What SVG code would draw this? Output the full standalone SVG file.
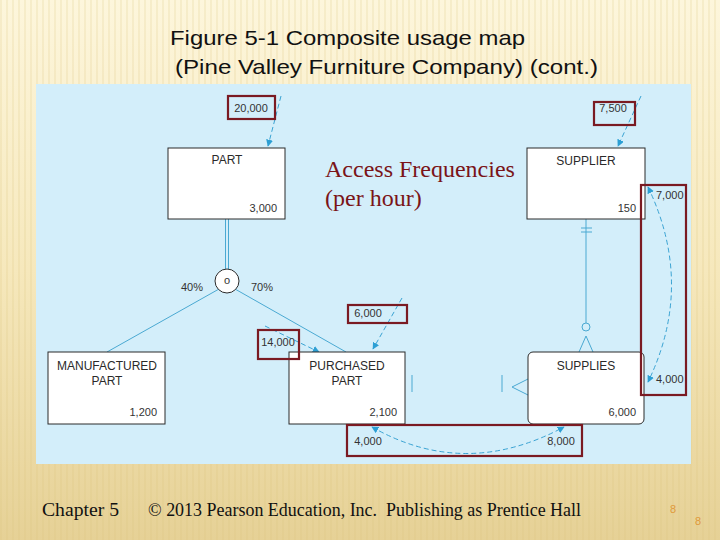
<svg xmlns="http://www.w3.org/2000/svg" width="720" height="540" viewBox="0 0 720 540">
<defs>
<linearGradient id="bg" x1="0" y1="0" x2="0" y2="1">
<stop offset="0" stop-color="#fdf6dc"/>
<stop offset="0.5" stop-color="#f6e8bc"/>
<stop offset="1" stop-color="#e6d196"/>
</linearGradient>
<pattern id="stripes" width="6" height="540" patternUnits="userSpaceOnUse">
<rect x="0" y="0" width="2" height="540" fill="#d8c07a" opacity="0.18"/>
</pattern>
<marker id="ah" viewBox="0 0 10 10" refX="9" refY="5" markerWidth="7" markerHeight="7" orient="auto-start-reverse" markerUnits="userSpaceOnUse">
<path d="M0,0 L10,5 L0,10 z" fill="#2c9fd4"/>
</marker>
<style>
.ent{fill:#ffffff;stroke:#2a2a2a;stroke-width:1}
.lbl{font-family:"Liberation Sans",Arial,sans-serif;font-size:12px;fill:#2a2a2a}
.num{font-family:"Liberation Sans",Arial,sans-serif;font-size:11px;fill:#333333}
.red{fill:none;stroke:#7a1a22;stroke-width:2.2}
.rel{fill:none;stroke:#4aa9d2;stroke-width:1}
.flow{fill:none;stroke:#3aa3d3;stroke-width:1;stroke-dasharray:5,3}
.title{font-family:"Liberation Sans",Arial,sans-serif;font-size:21px;fill:#111111}
.foot{font-family:"Liberation Serif","Times New Roman",serif;font-size:19px;fill:#111111}
.acc{font-family:"Liberation Serif","Times New Roman",serif;font-size:24px;fill:#7a1418}
</style>
</defs>
<rect width="720" height="540" fill="url(#bg)"/>
<rect width="720" height="540" fill="url(#stripes)"/>
<rect x="36" y="84" width="655" height="380" fill="#d3eefa"/>

<text class="title" x="170" y="45" textLength="355" lengthAdjust="spacingAndGlyphs">Figure 5-1 Composite usage map</text>
<text class="title" x="175" y="74" textLength="423" lengthAdjust="spacingAndGlyphs">(Pine Valley Furniture Company) (cont.)</text>

<g id="connectors">
<line class="rel" x1="225.5" y1="219" x2="225.5" y2="269"/>
<line class="rel" x1="228.5" y1="219" x2="228.5" y2="269"/>
<line class="rel" x1="219" y1="289" x2="107" y2="352"/>
<line class="rel" x1="235" y1="289" x2="346" y2="352"/>
<line class="rel" x1="586" y1="219" x2="586" y2="323"/>
<line class="rel" x1="581" y1="228" x2="592" y2="228"/>
<line class="rel" x1="581" y1="232" x2="592" y2="232"/>
<circle cx="586" cy="327" r="4" class="rel"/>
<polyline class="rel" points="579,352 586,336 593,352"/>
<line class="rel" x1="412" y1="375" x2="412" y2="392"/>
<line class="rel" x1="502" y1="375" x2="502" y2="392"/>
<polyline class="rel" points="528,379 512,387 528,395"/>
<path class="flow" d="M281,96 L268,146" marker-end="url(#ah)"/>
<path class="flow" d="M641,96 L618,146" marker-end="url(#ah)"/>
<path class="flow" d="M402,298 L373,349" marker-end="url(#ah)"/>
<path class="flow" d="M265,326 L319,352" marker-end="url(#ah)"/>
<path class="flow" d="M648,187 Q695,285 648,382" marker-start="url(#ah)" marker-end="url(#ah)"/>
<path class="flow" d="M372,427 Q465,480 564,427" marker-start="url(#ah)" marker-end="url(#ah)"/>
</g>

<g id="part">
<rect class="ent" x="168" y="148" width="117" height="71"/>
<text class="lbl" x="227" y="164" text-anchor="middle">PART</text>
<text class="num" x="277" y="212" text-anchor="end">3,000</text>
</g>
<g id="supplier">
<rect class="ent" x="527" y="148" width="118" height="71"/>
<text class="lbl" x="586" y="165" text-anchor="middle">SUPPLIER</text>
<text class="num" x="636" y="212" text-anchor="end">150</text>
</g>
<g id="subtype">
<circle cx="227" cy="281" r="12" fill="#ffffff" stroke="#2a2a2a" stroke-width="1"/>
<text class="num" x="227" y="284" text-anchor="middle">o</text>
<text class="num" x="203" y="291" text-anchor="end">40%</text>
<text class="num" x="251" y="291">70%</text>
</g>
<g id="manufactured-part">
<rect class="ent" x="48" y="352" width="117" height="72"/>
<text class="lbl" x="107" y="370" text-anchor="middle">MANUFACTURED</text>
<text class="lbl" x="107" y="385" text-anchor="middle">PART</text>
<text class="num" x="157" y="416" text-anchor="end">1,200</text>
</g>
<g id="purchased-part">
<rect class="ent" x="289" y="352" width="116" height="72"/>
<text class="lbl" x="347" y="370" text-anchor="middle">PURCHASED</text>
<text class="lbl" x="347" y="385" text-anchor="middle">PART</text>
<text class="num" x="397" y="416" text-anchor="end">2,100</text>
</g>
<g id="supplies">
<rect class="ent" x="528" y="352" width="116" height="72" rx="5" stroke="#555555"/>
<text class="lbl" x="586" y="370" text-anchor="middle">SUPPLIES</text>
<text class="num" x="636" y="416" text-anchor="end">6,000</text>
</g>

<g id="freq-20000">
<rect class="red" x="228" y="96" width="47" height="23"/>
<text class="num" x="251" y="112" text-anchor="middle">20,000</text>
</g>
<g id="freq-7500">
<rect class="red" x="594" y="102" width="41" height="23"/>
<text class="num" x="613" y="112" text-anchor="middle">7,500</text>
</g>
<g id="freq-6000">
<rect class="red" x="348" y="305" width="59" height="18"/>
<text class="num" x="368" y="317" text-anchor="middle">6,000</text>
</g>
<g id="freq-14000">
<rect class="red" x="258" y="330" width="41" height="29"/>
<text class="num" x="278" y="346" text-anchor="middle">14,000</text>
</g>
<g id="freq-right">
<rect class="red" x="641" y="185" width="45" height="210"/>
<text class="num" x="656" y="199">7,000</text>
<text class="num" x="656" y="383">4,000</text>
</g>
<g id="freq-bottom">
<rect class="red" x="347" y="425" width="235" height="31"/>
<text class="num" x="368" y="445" text-anchor="middle">4,000</text>
<text class="num" x="561" y="445" text-anchor="middle">8,000</text>
</g>

<text class="acc" x="325" y="177">Access Frequencies</text>
<text class="acc" x="325" y="206">(per hour)</text>

<text class="foot" x="42" y="516" textLength="77" lengthAdjust="spacingAndGlyphs">Chapter 5</text>
<text class="foot" x="148" y="516" textLength="433" lengthAdjust="spacingAndGlyphs">© 2013 Pearson Education, Inc.&#160; Publishing as Prentice Hall</text>
<text x="673" y="513" font-family="Liberation Sans,Arial,sans-serif" font-size="11" fill="#e09a3a" text-anchor="middle">8</text>
<text x="698" y="525" font-family="Liberation Sans,Arial,sans-serif" font-size="11" fill="#e09a3a" text-anchor="middle">8</text>
</svg>
